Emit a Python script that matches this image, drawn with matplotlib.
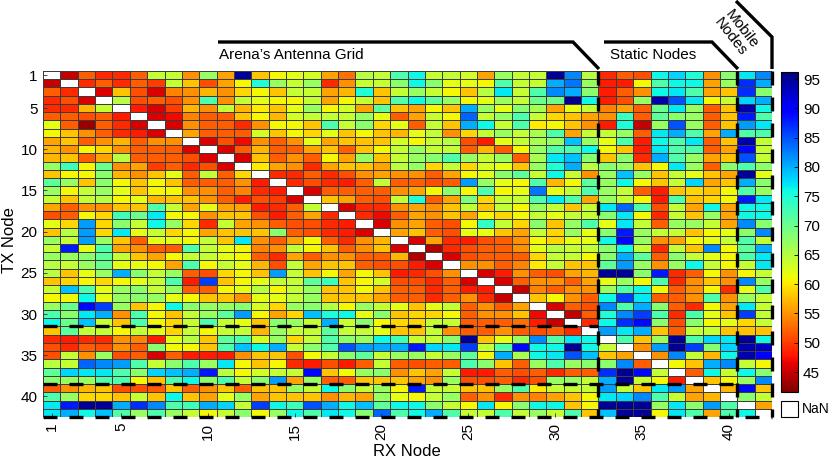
import numpy as np
import matplotlib
matplotlib.use('Agg')
import matplotlib.pyplot as plt
from matplotlib.lines import Line2D
from matplotlib.patches import Rectangle

plt.rcParams['font.family'] = ['Liberation Sans', 'DejaVu Sans']

nan = float('nan')

# Measured link values (rows = TX node, cols = RX node); NaN on the diagonal
arena_tx = [
    [nan,45,52,49,49,52,64,64,55,67,56,95,58, 61,62,63,56,53,65,64,72,76,64,64,63,56,67,64,64, 95,82,65,49,52,51,76,78,75,55,68,77,82],
    [45,nan,49,52,49,52,50,64,58,51,56,61,75, 67,64,67,49,55,64,64,68,76,68,62,62,61,72,64,64, 80,83,67,48,48,61,72,76,76,56,67,87,80],
    [52,49,nan,46,58,51,46,54,55,57,55,59,61, 58,64,64,56,57,75,58,64,67,64,61,58,65,77,64,72, 82,80,68,48,52,55,76,77,72,56,58,87,68],
    [49,51,46,nan,65,51,52,51,55,72,55,64,62, 61,61,64,56,61,64,58,72,76,71,67,61,62,67,64,70, 70,95,76,48,51,67,94,85,77,61,64,78,80],
    [49,49,57,64,nan,48,46,50,57,55,64,57,60, 58,62,67,61,63,56,71,58,56,61,58,80,67,62,68,66, 56,62,64,54,56,52,70,77,67,52,58,94,76],
    [52,52,51,52,48,nan,46,47,54,52,52,58,61, 57,63,64,64,64,67,62,52,56,64,61,84,64,67,72,64, 59,58,56,55,73,52,71,68,67,52,58,88,72],
    [62,52,43,52,49,46,nan,46,55,52,52,49,55, 61,61,58,72,64,68,59,62,52,64,58,80,76,64,72,60, 61,58,55,48,75,45,67,85,67,52,58,81,77],
    [61,58,55,52,49,48,46,nan,56,52,52,52,63, 58,61,59,62,58,61,58,57,62,64,55,59,64,67,64,66, 72,56,64,64,67,52,77,80,72,56,80,72,72],
    [56,58,52,55,57,52,55,55,nan,46,51,47,55, 52,55,62,56,58,58,58,63,61,64,65,51,48,62,64,66, 67,79,67,62,72,48,76,72,77,52,58,94,64],
    [57,55,61,59,55,52,52,52,46,nan,46,52,57, 52,52,56,58,52,58,61,64,67,64,64,52,57,52,61,67, 72,72,76,61,58,48,77,72,72,52,56,89,64],
    [57,58,52,56,65,52,52,52,51,46,nan,46,58, 52,55,52,61,56,67,58,64,67,68,72,67,64,67,52,66, 77,79,68,58,68,49,80,72,67,56,58,85,64],
    [67,73,61,70,55,56,50,52,49,51,46,nan,60, 56,55,49,56,58,58,56,65,67,59,64,59,63,62,58,67, 75,80,65,68,67,58,61,77,67,52,68,72,68],
    [58,61,61,68,57,55,58,62,52,64,52,59,nan, 49,49,52,49,51,55,56,55,55,52,56,61,62,68,71,64, 76,64,55,67,79,67,58,64,62,58,56,95,62],
    [71,67,58,68,61,58,61,58,52,52,52,55,48, nan,49,51,49,48,52,64,52,52,51,52,81,67,62,61,72, 57,61,71,67,76,61,58,64,78,56,58,80,68],
    [67,61,64,67,62,58,61,61,55,55,52,54,49, 48,nan,46,52,52,52,52,55,56,61,68,61,72,61,62,83, 62,64,72,67,64,52,48,58,59,58,61,72,67],
    [64,58,64,65,61,62,57,58,58,55,52,48,51, 50,46,nan,58,56,52,51,64,75,52,56,69,59,64,64,72, 77,72,56,67,64,61,48,72,58,59,61,88,77],
    [56,52,55,55,58,58,72,64,56,62,56,56,48, 49,52,64,nan,46,49,49,55,56,55,58,64,58,64,61,67, 64,58,64,77,84,72,51,64,56,76,56,76,76],
    [51,52,61,59,73,70,77,61,61,55,58,58,51, 48,52,56,49,nan,49,47,52,56,55,58,56,61,59,61,64, 62,64,64,68,77,61,49,64,58,67,56,76,76],
    [62,59,81,59,68,64,76,67,59,49,64,56,55, 52,51,51,49,48,nan,46,55,56,52,51,61,74,64,59,68, 58,67,72,62,77,64,52,67,67,64,56,82,68],
    [58,65,81,59,77,62,64,59,61,56,58,58,58, 68,52,51,49,48,46,nan,56,58,52,51,62,62,58,56,64, 59,67,62,68,88,67,64,64,58,61,62,68,82],
    [67,64,81,67,58,52,62,62,61,64,58,77,55, 52,56,61,52,49,55,57,nan,46,56,49,48,51,52,55,61, 59,62,62,76,89,67,55,56,61,62,64,72,64],
    [64,88,62,72,56,55,52,52,72,64,62,61,54, 55,64,61,58,52,55,58,46,nan,44,49,51,52,52,55,62, 65,64,64,68,76,64,49,64,58,82,61,71,80],
    [67,67,68,71,64,58,56,61,64,64,62,61,52, 49,56,52,55,55,52,52,57,44,nan,46,51,52,52,52,59, 64,64,61,68,80,71,52,68,64,62,61,72,77],
    [65,64,67,70,62,62,61,56,72,61,64,62,57, 51,64,56,58,58,52,51,51,48,46,nan,55,55,52,54,60, 64,58,58,71,81,67,55,67,76,64,61,64,77],
    [65,58,62,67,80,68,64,67,52,51,59,61,58, 81,64,58,61,56,61,58,48,49,51,55,nan,46,48,55,52, 51,56,57,95,95,68,88,49,52,61,55,61,64],
    [58,59,61,59,61,62,64,72,48,86,58,61,62, 64,64,71,73,58,61,63,51,51,49,52,46,nan,46,52,55, 55,52,56,62,67,61,72,49,55,58,55,82,67],
    [64,79,72,62,67,68,64,67,52,52,61,62,65, 61,64,67,58,58,61,58,52,52,49,52,48,48,nan,45,54, 52,55,55,67,72,76,61,52,55,61,49,62,72],
    [61,61,76,62,67,68,67,62,61,58,58,55,62, 62,64,67,58,58,58,56,52,52,49,52,55,49,45,nan,58, 61,55,52,76,86,77,52,52,55,72,55,67,64],
    [67,70,89,86,67,58,61,76,68,67,67,68,63, 59,67,68,65,61,67,64,62,58,62,64,52,55,52,56,nan, 46,52,51,82,72,80,68,52,49,61,56,77,64],
    [72,68,77,80,55,72,61,58,64,67,71,81,61, 56,59,79,75,76,62,68,58,59,59,61,52,55,55,58,47, nan,45,52,75,82,86,72,49,72,62,58,86,64],
    [76,70,79,64,58,72,61,59,64,72,64,62,58, 68,67,64,80,64,68,61,59,59,64,64,52,52,52,53,48, 45,nan,49,76,87,89,68,51,68,61,62,59,64],
    [58,71,64,64,61,64,62,59,64,61,64,64,57, 67,64,64,71,64,64,62,58,58,64,55,52,52,55,52,51, 52,49,nan,81,77,80,58,52,64,64,58,58,58],
]
static_tx = [
    [49,48,49,49,55,54,48,62,65,58,71,72,63, 67,59,64,72,68,67,76,73,64,64,68,95,58,62,67,82, 72,77,76,nan,72,58,67,95,72,78,77,95,76],
    [51,49,52,51,55,52,68,61,61,58,72,79,76, 80,64,68,72,85,81,80,80,88,78,77,86,64,72,89,76, 76,95,76,64,nan,55,81,95,86,68,78,94,93],
    [51,64,55,67,51,52,46,52,48,48,48,55,58, 58,51,61,64,68,71,64,67,67,64,67,71,61,80,66,76, 77,85,79,58,56,nan,55,82,64,57,76,94,90],
    [65,64,84,82,81,72,64,68,72,67,77,61,58, 61,49,48,51,48,52,64,52,51,52,52,72,68,58,52,67, 72,67,68,68,82,52,nan,61,58,80,82,64,61],
    [71,78,77,77,72,68,78,79,80,88,65,61,63, 64,64,89,58,61,67,68,55,58,56,64,48,48,52,51,52, 49,52,52,87,95,89,64,nan,52,76,64,76,68],
    [68,67,67,72,72,61,58,72,76,68,72,64,68, 81,56,67,52,52,58,58,58,56,55,67,51,51,52,49,51, 67,67,64,80,95,64,61,48,nan,58,61,67,82],
    [52,55,57,58,51,51,52,58,52,55,58,52,58, 58,67,64,76,68,64,67,61,88,64,64,58,58,67,72,60, 64,64,64,81,64,58,77,81,56,nan,57,89,58],
    [72,67,59,59,58,64,58,76,58,56,62,67,56, 58,58,58,55,57,56,67,62,61,64,67,52,55,49,55,54, 56,58,61,77,78,82,72,64,56,57,nan,68,64],
]
mobile_tx = [
    [77,88,95,95,80,87,82,72,73,80,78,64,86, 76,73,85,80,76,79,71,76,76,68,64,61,77,61,68,76, 76,58,61,95,95,95,67,77,68,81,72,nan,56],
    [77,80,76,79,72,67,72,67,64,61,64,68,61, 67,76,72,77,76,68,84,72,76,80,72,64,64,72,64,67, 64,72,58,79,95,95,61,77,72,56,72,76,nan],
]

node_ticks = [1, 5, 10, 15, 20, 25, 30, 35, 40]
cbar_ticks = [45, 50, 55, 60, 65, 70, 75, 80, 85, 90, 95]
color_range = (41.6, 96.2)
group_labels = ["Arena\u2019s Antenna Grid", "Static Nodes", "Mobile\nNodes"]

rssi = np.array(arena_tx + static_tx + mobile_tx, dtype=float)
n_tx, n_rx = rssi.shape
n_arena = len(arena_tx)
n_static = len(static_tx)

W, H = 830, 459
fig = plt.figure(figsize=(W / 100, H / 100), dpi=100)
fig.patch.set_facecolor('white')

def fx(px):
    return px / W

def fy(py):
    return 1 - py / H

ax = fig.add_axes([fx(43), fy(417), fx(772) - fx(43), fy(71) - fy(417)])
cmap = plt.get_cmap('jet_r').copy()
cmap.set_bad('white')
xe = np.arange(0.5, n_rx + 1)
ye = np.arange(0.5, n_tx + 1)
mesh = ax.pcolormesh(xe, ye, np.ma.masked_invalid(rssi), cmap=cmap,
                     vmin=color_range[0], vmax=color_range[1],
                     edgecolors='#3c3c3c', linewidth=0.45)
ax.set_xlim(0.5, n_rx + 0.5)
ax.set_ylim(n_tx + 0.5, 0.5)
ax.set_xticks(node_ticks)
ax.set_xticklabels([str(t) for t in node_ticks], rotation=90, fontsize=11)
ax.set_yticks(node_ticks)
ax.set_yticklabels([str(t) for t in node_ticks], fontsize=11)
ax.tick_params(axis='both', direction='in', length=3, width=0.6, color='#333333', pad=4)
for s in ax.spines.values():
    s.set_visible(False)

dash = (0, (4.2, 3.6))
lw = 2.4
xa = n_arena + 0.5          # between arena and static columns
xs = n_arena + n_static + 0.5
kw = dict(color='black', lw=lw, ls=dash, clip_on=False, solid_capstyle='butt', dash_capstyle='butt')
ax.plot([xa, xa], [0.5, n_tx + 0.5], **kw)
ax.plot([xs, xs], [0.5, n_tx + 0.5], **kw)
ax.plot([n_rx + 0.5, n_rx + 0.5], [0.5, n_tx + 0.5], **kw)
ax.plot([0.5, xa], [n_arena - 0.5, n_arena - 0.5], **kw)
ax.plot([0.5, xs], [n_arena + n_static - 1.5, n_arena + n_static - 1.5], **kw)
ax.plot([0.5, n_rx + 0.5], [n_tx + 0.5, n_tx + 0.5], **kw)

# group brackets above the matrix
def fig_line(pts):
    xs_ = [fx(p[0]) for p in pts]
    ys_ = [fy(p[1]) for p in pts]
    fig.add_artist(Line2D(xs_, ys_, color='black', lw=2.4, transform=fig.transFigure,
                          solid_capstyle='butt', solid_joinstyle='miter'))

fig_line([(218, 42), (573, 42), (599, 69)])
fig_line([(604, 42), (712, 42), (738, 69)])
fig_line([(736, 1), (772, 37), (772, 69)])

fig.text(fx(219), fy(55), group_labels[0], fontsize=11, ha='left', va='center')
fig.text(fx(610), fy(55), group_labels[1], fontsize=11, ha='left', va='center')
fig.text(fx(736), fy(33), group_labels[2], fontsize=11, ha='center', va='center',
         rotation=-52, linespacing=0.95, rotation_mode='anchor')

fig.text(fx(407), fy(452), 'RX Node', fontsize=12, ha='center', va='center')
fig.text(fx(10), fy(240), 'TX Node', fontsize=12, ha='center', va='center', rotation=90)

# colorbar
cax = fig.add_axes([fx(781), fy(392), fx(797.5) - fx(781), fy(72) - fy(392)])
cb = fig.colorbar(mesh, cax=cax, ticks=cbar_ticks)
cb.ax.tick_params(labelsize=11, direction='in', length=3, width=0.6, pad=4)
cb.outline.set_linewidth(0.8)

fig.add_artist(Rectangle((fx(781), fy(417)), fx(798) - fx(781), fy(401) - fy(417),
                         facecolor='white', edgecolor='black', lw=0.8,
                         transform=fig.transFigure))
fig.text(fx(802), fy(409), 'NaN', fontsize=10, ha='left', va='center')

fig.savefig('out.png', dpi=100, facecolor='white')
